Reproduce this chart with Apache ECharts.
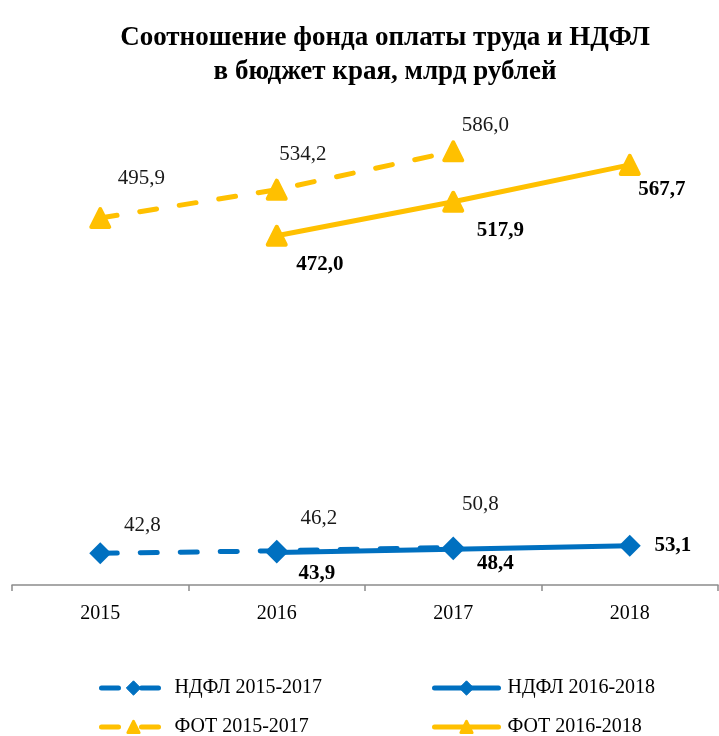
<!DOCTYPE html>
<html>
<head>
<meta charset="utf-8">
<script src="https://cdn.jsdelivr.net/npm/echarts@6/dist/echarts.min.js"></script>
<style>
  html, body { margin: 0; padding: 0; background: #fff; }
  #chart { width: 719px; height: 736px; }
</style>
</head>
<body>
<div id="chart"></div>
<script>
const years = ["2015", "2016", "2017", "2018"];

// НДФЛ (млрд руб.)
const ndflOld = [42.8, 46.2, 50.8, null];   // 2015-2017
const ndflNew = [null, 43.9, 48.4, 53.1];   // 2016-2018
// ФОТ (млрд руб.)
const fotOld = [495.9, 534.2, 586.0, null];
const fotNew = [null, 472.0, 517.9, 567.7];

const seriesNames = ["НДФЛ 2015-2017", "НДФЛ 2016-2018", "ФОТ 2015-2017", "ФОТ 2016-2018"];

// смещения подписей относительно точки (x, y), px
const ndflOldOffsets = [[42, -28], [42, -32], [27, -43], null];
const ndflNewOffsets = [null, [40, 21], [42, 14], [43, 0]];
const fotOldOffsets = [[41, -40], [26, -35], [32, -26], null];
const fotNewOffsets = [null, [43, 29], [47, 29], [32, 25]];

const BLUE = "#0070C0";
const GOLD = "#FFC000";
const FONT = "'Times New Roman', 'Liberation Serif', serif";

function fmt(v) {
  return v.toFixed(1).replace(".", ",");
}

function buildData(values, offsets, bold) {
  return values.map((v, i) => {
    if (v == null) return null;
    return {
      value: v,
      label: {
        show: true,
        position: "inside",
        offset: offsets[i],
        formatter: () => fmt(v),
        fontFamily: FONT,
        fontSize: 21,
        fontWeight: bold ? "bold" : "normal",
        color: bold ? "#000" : "#1a1a1a",
      },
    };
  });
}

function lineSeries(name, values, offsets, color, dashed, symbol, bold) {
  return {
    name,
    type: "line",
    data: buildData(values, offsets, bold),
    connectNulls: false,
    symbol,
    symbolSize: symbol === "diamond" ? 22 : 18,
    showAllSymbol: true,
    z: dashed ? 2 : 3,
    lineStyle: {
      color,
      width: 5,
      type: dashed ? [17, 23] : "solid",
      cap: "round",
    },
    itemStyle: {
      color,
      borderColor: color,
      borderWidth: symbol === "triangle" ? 4 : 0,
      borderJoin: "round",
    },
    emphasis: { disabled: true },
    animation: false,
  };
}

const chart = echarts.init(document.getElementById("chart"));

function legendAt(name, left, top, small) {
  return {
    data: [name],
    left,
    top,
    itemWidth: 64,
    itemHeight: small ? 14 : 18,
    itemGap: 0,
    lineStyle: { width: 5 },
    itemStyle: { borderWidth: small ? 3 : 1 },
    textStyle: { fontFamily: FONT, fontSize: 20, color: "#000", padding: [0, 0, 0, 4] },
  };
}

chart.setOption({
  backgroundColor: "#fff",
  title: {
    text: "Соотношение фонда оплаты труда и НДФЛ\nв бюджет края, млрд рублей",
    left: 380,
    top: 16,
    textAlign: "center",
    textStyle: {
      fontFamily: FONT,
      fontSize: 27,
      fontWeight: "bold",
      color: "#000",
      lineHeight: 34,
    },
  },
  legend: [
    legendAt(seriesNames[0], 94, 673, false),
    legendAt(seriesNames[1], 427, 673, false),
    legendAt(seriesNames[2], 94, 712, true),
    legendAt(seriesNames[3], 427, 712, true),
  ],
  grid: { left: 12, right: 1, top: 67, bottom: 151, containLabel: false },
  xAxis: {
    type: "category",
    data: years,
    boundaryGap: true,
    axisLine: { lineStyle: { color: "#8c8c8c", width: 1.5 } },
    axisTick: { show: true, length: 6, lineStyle: { color: "#8c8c8c", width: 1.5 } },
    axisLabel: { fontFamily: FONT, fontSize: 20, color: "#000", margin: 19 },
  },
  yAxis: {
    type: "value",
    min: 0,
    max: 700,
    show: false,
    splitLine: { show: false },
  },
  series: [
    lineSeries(seriesNames[0], ndflOld, ndflOldOffsets, BLUE, true, "diamond", false),
    lineSeries(seriesNames[1], ndflNew, ndflNewOffsets, BLUE, false, "diamond", true),
    lineSeries(seriesNames[2], fotOld, fotOldOffsets, GOLD, true, "triangle", false),
    lineSeries(seriesNames[3], fotNew, fotNewOffsets, GOLD, false, "triangle", true),
  ],
  animation: false,
});
</script>
</body>
</html>
